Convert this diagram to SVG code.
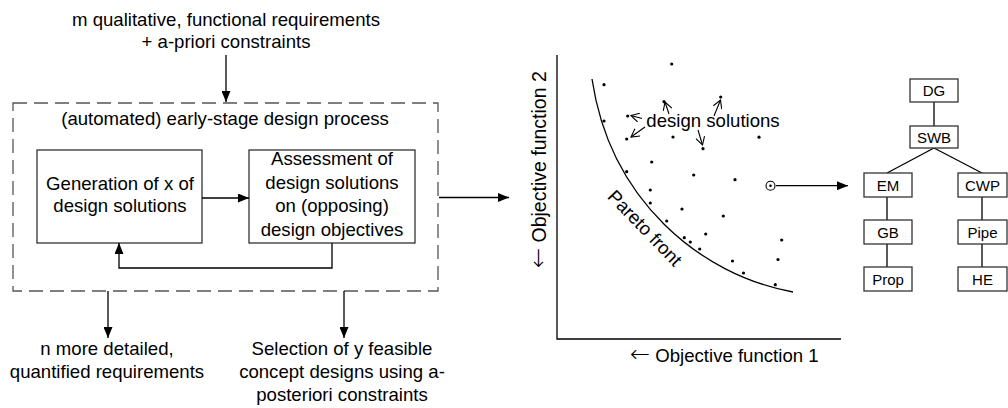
<svg xmlns="http://www.w3.org/2000/svg" width="1008" height="408" viewBox="0 0 1008 408">
<defs>
<marker id="ah" viewBox="0 0 11 9" refX="11" refY="4.5" markerWidth="11" markerHeight="9" markerUnits="userSpaceOnUse" orient="auto"><path d="M0,0 L11,4.5 L0,9 z" fill="#000"/></marker>
<marker id="oa" viewBox="0 0 10 10" refX="9" refY="5" markerWidth="10" markerHeight="10" markerUnits="userSpaceOnUse" orient="auto"><path d="M1,0.5 L9,5 L1,9.5" fill="none" stroke="#000" stroke-width="1.1"/></marker>
</defs>
<style>
text{font-family:"Liberation Sans",Arial,sans-serif;font-size:18.6px;fill:#000;text-anchor:middle}
.tb text{font-size:15px}
.ar{font-family:"DejaVu Sans",sans-serif;font-size:24px;font-weight:200}
.box{fill:#fff;stroke:#333;stroke-width:1.3}
.dash{fill:none;stroke:#555;stroke-width:1.3;stroke-dasharray:14 7}
.ln{fill:none;stroke:#000;stroke-width:1.3}
.arr{fill:none;stroke:#000;stroke-width:1.3;marker-end:url(#ah)}
.sa{fill:none;stroke:#000;stroke-width:1.1;marker-end:url(#oa)}
.dot{fill:#000}
</style>
<rect width="1008" height="408" fill="#fff"/>

<g id="input-label">
<text x="226" y="26">m qualitative, functional requirements</text>
<text x="226" y="48">+ a-priori constraints</text>
</g>

<g id="process">
<rect class="dash" x="13" y="103" width="425" height="188"/>
<text x="225" y="125">(automated) early-stage design process</text>
</g>

<g id="generation">
<rect class="box" x="37" y="150" width="165" height="93"/>
<text x="120" y="190">Generation of x of</text>
<text x="120" y="212">design solutions</text>
</g>

<g id="assessment">
<rect class="box" x="249" y="150" width="166" height="93"/>
<text x="332" y="165">Assessment of</text>
<text x="332" y="188.5">design solutions</text>
<text x="332" y="212">on (opposing)</text>
<text x="332" y="235.5">design objectives</text>
</g>

<g id="output-requirements">
<text x="107" y="355">n more detailed,</text>
<text x="107" y="378">quantified requirements</text>
</g>

<g id="output-selection">
<text x="342" y="355">Selection of y feasible</text>
<text x="342" y="378">concept designs using a-</text>
<text x="342" y="401">posteriori constraints</text>
</g>

<g id="connectors">
<path class="arr" d="M226,55 V102"/>
<path class="arr" d="M202,198 H249"/>
<path class="arr" d="M332,243 V268 H119 V243"/>
<path class="arr" d="M108,291 V338"/>
<path class="arr" d="M344,291 V338"/>
<path class="arr" d="M439,197.5 H509"/>
<path class="arr" d="M776,185.7 H848"/>
<path class="ln" d="M934,102 V126"/>
<path class="ln" d="M934,148 L887,173"/>
<path class="ln" d="M934,148 L982,173"/>
<path class="ln" d="M887,197 V220"/>
<path class="ln" d="M887,244 V267"/>
<path class="ln" d="M982,197 V220"/>
<path class="ln" d="M982,244 V267"/>
</g>

<g id="plot">
<path class="ln" d="M557,55 V339 H841"/>
<text transform="translate(546,268) rotate(-90)" style="text-anchor:start;font-size:19.5px"><tspan class="ar">←</tspan> Objective function 2</text>
<text x="630" y="362" style="text-anchor:start"><tspan class="ar">←</tspan> Objective function 1</text>
<path class="ln" d="M592,79 C610,200 700,275 793,292"/>
<text transform="translate(640.3,232.5) rotate(46)">Pareto front</text>
<g class="dot">
<circle cx="671.7" cy="64" r="1.6"/>
<circle cx="604" cy="84.7" r="1.6"/>
<circle cx="604" cy="121" r="1.6"/>
<circle cx="627.7" cy="116" r="1.6"/>
<circle cx="626.7" cy="139" r="1.6"/>
<circle cx="664" cy="101.7" r="1.6"/>
<circle cx="720.7" cy="97" r="1.6"/>
<circle cx="673" cy="137" r="1.6"/>
<circle cx="703" cy="148.7" r="1.6"/>
<circle cx="759" cy="137.2" r="1.6"/>
<circle cx="651.7" cy="162" r="1.6"/>
<circle cx="626.7" cy="171.7" r="1.6"/>
<circle cx="693.7" cy="175" r="1.6"/>
<circle cx="735" cy="179.7" r="1.6"/>
<circle cx="650.3" cy="190" r="1.6"/>
<circle cx="650.3" cy="203" r="1.6"/>
<circle cx="682" cy="209" r="1.6"/>
<circle cx="723.3" cy="216" r="1.6"/>
<circle cx="666.7" cy="221" r="1.6"/>
<circle cx="705.7" cy="234" r="1.6"/>
<circle cx="684.3" cy="237.7" r="1.6"/>
<circle cx="690.3" cy="242" r="1.6"/>
<circle cx="699.7" cy="249" r="1.6"/>
<circle cx="732.5" cy="261" r="1.6"/>
<circle cx="743.5" cy="273" r="1.6"/>
<circle cx="778" cy="259.5" r="1.6"/>
<circle cx="781.7" cy="240" r="1.6"/>
<circle cx="775.3" cy="284.7" r="1.6"/>
<circle cx="770.5" cy="185.7" r="1.3"/>
</g>
<circle cx="770.5" cy="185.7" r="4.5" fill="none" stroke="#000" stroke-width="1.1"/>
<text x="713" y="127">design solutions</text>
<path class="sa" d="M642,118.5 L631,115.5"/>
<path class="sa" d="M645,127 L631,137"/>
<path class="sa" d="M669,114 L665,102"/>
<path class="sa" d="M714,116 L720.5,100"/>
<path class="sa" d="M698,130 L702.5,145"/>
</g>

<g class="tb">
<g id="DG"><rect class="box" x="910" y="79" width="48" height="23"/><text x="934" y="96">DG</text></g>
<g id="SWB"><rect class="box" x="910" y="126" width="48" height="22"/><text x="934" y="142.5">SWB</text></g>
<g id="EM"><rect class="box" x="864" y="173" width="48" height="24"/><text x="888" y="190.5">EM</text></g>
<g id="CWP"><rect class="box" x="958" y="173" width="49" height="24"/><text x="982.5" y="190.5">CWP</text></g>
<g id="GB"><rect class="box" x="864" y="220" width="48" height="24"/><text x="888" y="237.5">GB</text></g>
<g id="Pipe"><rect class="box" x="958" y="220" width="49" height="24"/><text x="982.5" y="237.5">Pipe</text></g>
<g id="Prop"><rect class="box" x="864" y="267" width="48" height="24"/><text x="888" y="284.5">Prop</text></g>
<g id="HE"><rect class="box" x="958" y="267" width="49" height="24"/><text x="982.5" y="284.5">HE</text></g>
</g>
</svg>
